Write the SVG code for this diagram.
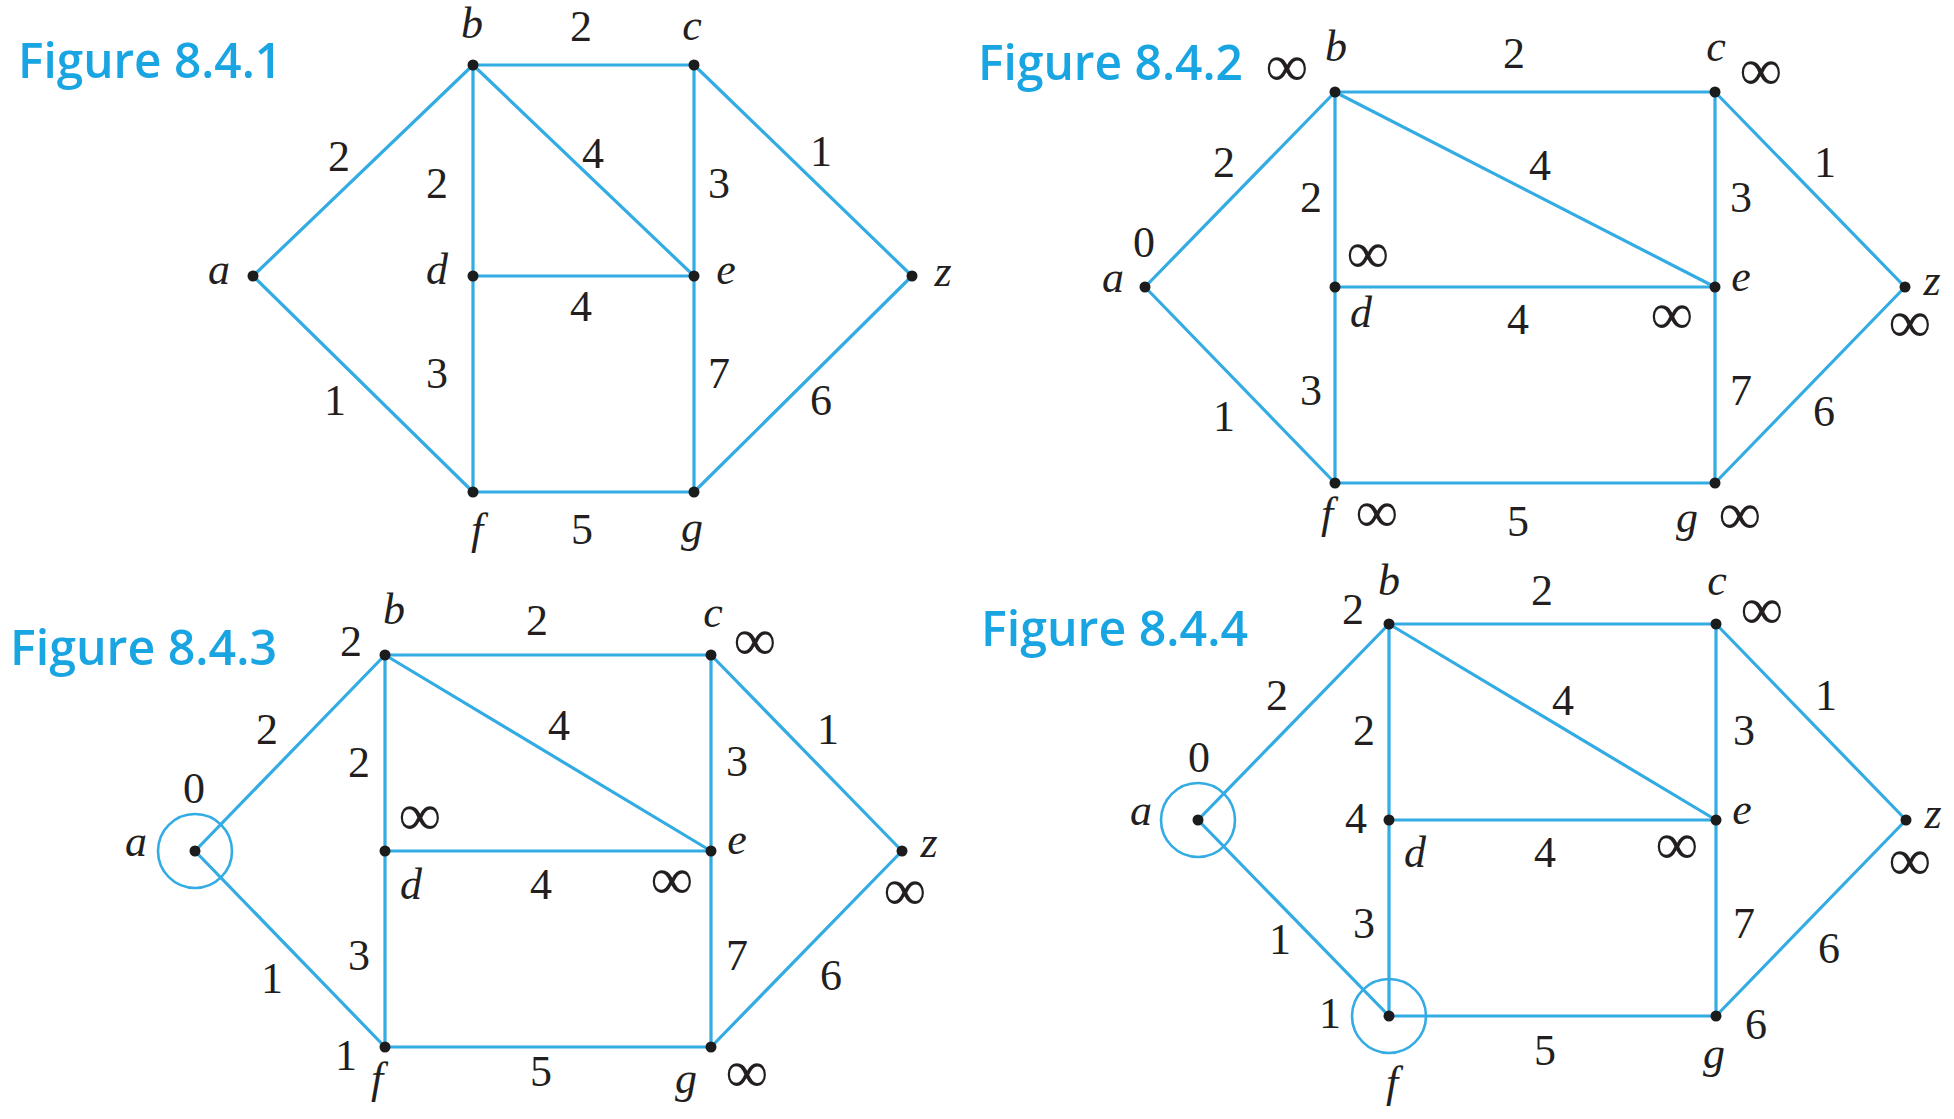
<svg xmlns="http://www.w3.org/2000/svg" width="1954" height="1119" viewBox="0 0 1954 1119">
<style>
.edge{stroke:#33abe3;stroke-width:3.2;fill:none;stroke-linecap:round}
.ring{stroke:#33abe3;stroke-width:2.6;fill:none}
.dot{fill:#1c1c1c}
.t{font-family:'Liberation Serif',serif;font-size:44px;fill:#231f20;text-anchor:middle}
.it{font-style:italic}
.inf{font-size:60px}
.title{font-family:'Open Sans','Noto Sans',sans-serif;font-weight:600;font-size:49px;fill:#19a4e2}
</style>
<rect width="1954" height="1119" fill="#fff"/>

<!-- Figure 8.4.1 -->
<g id="fig1">
<text class="title" x="18" y="78" textLength="264" lengthAdjust="spacingAndGlyphs">Figure 8.4.1</text>
<g id="fig1-edges">
<line class="edge" x1="253" y1="276" x2="473" y2="65"/>
<line class="edge" x1="253" y1="276" x2="473" y2="492"/>
<line class="edge" x1="473" y1="65" x2="694" y2="65"/>
<line class="edge" x1="473" y1="65" x2="473" y2="492"/>
<line class="edge" x1="473" y1="65" x2="694" y2="276"/>
<line class="edge" x1="473" y1="276" x2="694" y2="276"/>
<line class="edge" x1="694" y1="65" x2="694" y2="492"/>
<line class="edge" x1="694" y1="65" x2="912" y2="276"/>
<line class="edge" x1="473" y1="492" x2="694" y2="492"/>
<line class="edge" x1="694" y1="492" x2="912" y2="276"/>
<text class="t" x="339" y="171">2</text>
<text class="t" x="437" y="198">2</text>
<text class="t" x="437" y="388">3</text>
<text class="t" x="335" y="415">1</text>
<text class="t" x="581" y="41">2</text>
<text class="t" x="593" y="168">4</text>
<text class="t" x="719" y="198">3</text>
<text class="t" x="821" y="166">1</text>
<text class="t" x="581" y="321">4</text>
<text class="t" x="719" y="388">7</text>
<text class="t" x="821" y="415">6</text>
<text class="t" x="582" y="544">5</text>
</g>
<g id="fig1-a"><circle class="dot" cx="253" cy="276" r="5.5"/><text class="t it" x="219" y="284">a</text></g>
<g id="fig1-b"><circle class="dot" cx="473" cy="65" r="5.5"/><text class="t it" x="472" y="38">b</text></g>
<g id="fig1-c"><circle class="dot" cx="694" cy="65" r="5.5"/><text class="t it" x="692" y="40">c</text></g>
<g id="fig1-d"><circle class="dot" cx="473" cy="276" r="5.5"/><text class="t it" x="437" y="284">d</text></g>
<g id="fig1-e"><circle class="dot" cx="694" cy="276" r="5.5"/><text class="t it" x="726" y="284">e</text></g>
<g id="fig1-f"><circle class="dot" cx="473" cy="492" r="5.5"/><text class="t it" x="477" y="544">f</text></g>
<g id="fig1-g"><circle class="dot" cx="694" cy="492" r="5.5"/><text class="t it" x="692" y="542">g</text></g>
<g id="fig1-z"><circle class="dot" cx="912" cy="276" r="5.5"/><text class="t it" x="943" y="286">z</text></g>
</g>

<!-- Figure 8.4.2 -->
<g id="fig2">
<text class="title" x="978" y="80" textLength="265" lengthAdjust="spacingAndGlyphs">Figure 8.4.2</text>
<g id="fig2-edges">
<line class="edge" x1="1145" y1="287" x2="1335" y2="92"/>
<line class="edge" x1="1145" y1="287" x2="1335" y2="483"/>
<line class="edge" x1="1335" y1="92" x2="1715" y2="92"/>
<line class="edge" x1="1335" y1="92" x2="1335" y2="483"/>
<line class="edge" x1="1335" y1="92" x2="1715" y2="287"/>
<line class="edge" x1="1335" y1="287" x2="1715" y2="287"/>
<line class="edge" x1="1715" y1="92" x2="1715" y2="483"/>
<line class="edge" x1="1715" y1="92" x2="1905" y2="287"/>
<line class="edge" x1="1335" y1="483" x2="1715" y2="483"/>
<line class="edge" x1="1715" y1="483" x2="1905" y2="287"/>
<text class="t" x="1224" y="177">2</text>
<text class="t" x="1311" y="212">2</text>
<text class="t" x="1311" y="405">3</text>
<text class="t" x="1224" y="431">1</text>
<text class="t" x="1514" y="68">2</text>
<text class="t" x="1540" y="180">4</text>
<text class="t" x="1741" y="212">3</text>
<text class="t" x="1825" y="177">1</text>
<text class="t" x="1518" y="334">4</text>
<text class="t" x="1741" y="405">7</text>
<text class="t" x="1824" y="426">6</text>
<text class="t" x="1518" y="536">5</text>
</g>
<g id="fig2-a"><circle class="dot" cx="1145" cy="287" r="5.5"/><text class="t it" x="1113" y="292">a</text><text class="t" x="1144" y="257">0</text></g>
<g id="fig2-b"><circle class="dot" cx="1335" cy="92" r="5.5"/><text class="t it" x="1336" y="61">b</text><text class="t inf" x="1287" y="86">∞</text></g>
<g id="fig2-c"><circle class="dot" cx="1715" cy="92" r="5.5"/><text class="t it" x="1716" y="61">c</text><text class="t inf" x="1761" y="90">∞</text></g>
<g id="fig2-d"><circle class="dot" cx="1335" cy="287" r="5.5"/><text class="t it" x="1361" y="327">d</text><text class="t inf" x="1368" y="273">∞</text></g>
<g id="fig2-e"><circle class="dot" cx="1715" cy="287" r="5.5"/><text class="t it" x="1741" y="291">e</text><text class="t inf" x="1672" y="334">∞</text></g>
<g id="fig2-f"><circle class="dot" cx="1335" cy="483" r="5.5"/><text class="t it" x="1327" y="528">f</text><text class="t inf" x="1377" y="532">∞</text></g>
<g id="fig2-g"><circle class="dot" cx="1715" cy="483" r="5.5"/><text class="t it" x="1687" y="532">g</text><text class="t inf" x="1740" y="534">∞</text></g>
<g id="fig2-z"><circle class="dot" cx="1905" cy="287" r="5.5"/><text class="t it" x="1932" y="295">z</text><text class="t inf" x="1910" y="342">∞</text></g>
</g>

<!-- Figure 8.4.3 -->
<g id="fig3">
<text class="title" x="10" y="665" textLength="267" lengthAdjust="spacingAndGlyphs">Figure 8.4.3</text>
<g id="fig3-edges">
<line class="edge" x1="195" y1="851" x2="385" y2="655"/>
<line class="edge" x1="195" y1="851" x2="385" y2="1047"/>
<line class="edge" x1="385" y1="655" x2="711" y2="655"/>
<line class="edge" x1="385" y1="655" x2="385" y2="1047"/>
<line class="edge" x1="385" y1="655" x2="711" y2="851"/>
<line class="edge" x1="385" y1="851" x2="711" y2="851"/>
<line class="edge" x1="711" y1="655" x2="711" y2="1047"/>
<line class="edge" x1="711" y1="655" x2="902" y2="851"/>
<line class="edge" x1="385" y1="1047" x2="711" y2="1047"/>
<line class="edge" x1="711" y1="1047" x2="902" y2="851"/>
<text class="t" x="267" y="744">2</text>
<text class="t" x="359" y="777">2</text>
<text class="t" x="359" y="970">3</text>
<text class="t" x="272" y="993">1</text>
<text class="t" x="537" y="635">2</text>
<text class="t" x="559" y="740">4</text>
<text class="t" x="737" y="776">3</text>
<text class="t" x="828" y="744">1</text>
<text class="t" x="541" y="899">4</text>
<text class="t" x="737" y="970">7</text>
<text class="t" x="831" y="990">6</text>
<text class="t" x="541" y="1086">5</text>
</g>
<g id="fig3-a"><circle class="ring" cx="195" cy="851" r="37"/><circle class="dot" cx="195" cy="851" r="5.5"/><text class="t it" x="136" y="856">a</text><text class="t" x="194" y="803">0</text></g>
<g id="fig3-b"><circle class="dot" cx="385" cy="655" r="5.5"/><text class="t it" x="394" y="624">b</text><text class="t" x="351" y="656">2</text></g>
<g id="fig3-c"><circle class="dot" cx="711" cy="655" r="5.5"/><text class="t it" x="713" y="627">c</text><text class="t inf" x="755" y="660">∞</text></g>
<g id="fig3-d"><circle class="dot" cx="385" cy="851" r="5.5"/><text class="t it" x="411" y="899">d</text><text class="t inf" x="420" y="835">∞</text></g>
<g id="fig3-e"><circle class="dot" cx="711" cy="851" r="5.5"/><text class="t it" x="737" y="854">e</text><text class="t inf" x="672" y="899">∞</text></g>
<g id="fig3-f"><circle class="dot" cx="385" cy="1047" r="5.5"/><text class="t it" x="377" y="1093">f</text><text class="t" x="346" y="1070">1</text></g>
<g id="fig3-g"><circle class="dot" cx="711" cy="1047" r="5.5"/><text class="t it" x="686" y="1093">g</text><text class="t inf" x="747" y="1092">∞</text></g>
<g id="fig3-z"><circle class="dot" cx="902" cy="851" r="5.5"/><text class="t it" x="929" y="857">z</text><text class="t inf" x="905" y="910">∞</text></g>
</g>

<!-- Figure 8.4.4 -->
<g id="fig4">
<text class="title" x="981" y="646" textLength="267" lengthAdjust="spacingAndGlyphs">Figure 8.4.4</text>
<g id="fig4-edges">
<line class="edge" x1="1198" y1="820" x2="1389" y2="624"/>
<line class="edge" x1="1198" y1="820" x2="1389" y2="1016"/>
<line class="edge" x1="1389" y1="624" x2="1716" y2="624"/>
<line class="edge" x1="1389" y1="624" x2="1389" y2="1016"/>
<line class="edge" x1="1389" y1="624" x2="1716" y2="820"/>
<line class="edge" x1="1389" y1="820" x2="1716" y2="820"/>
<line class="edge" x1="1716" y1="624" x2="1716" y2="1016"/>
<line class="edge" x1="1716" y1="624" x2="1906" y2="820"/>
<line class="edge" x1="1389" y1="1016" x2="1716" y2="1016"/>
<line class="edge" x1="1716" y1="1016" x2="1906" y2="820"/>
<text class="t" x="1277" y="710">2</text>
<text class="t" x="1364" y="745">2</text>
<text class="t" x="1364" y="938">3</text>
<text class="t" x="1280" y="954">1</text>
<text class="t" x="1542" y="605">2</text>
<text class="t" x="1563" y="715">4</text>
<text class="t" x="1744" y="745">3</text>
<text class="t" x="1826" y="710">1</text>
<text class="t" x="1545" y="867">4</text>
<text class="t" x="1744" y="938">7</text>
<text class="t" x="1829" y="963">6</text>
<text class="t" x="1545" y="1065">5</text>
</g>
<g id="fig4-a"><circle class="ring" cx="1198" cy="820" r="37"/><circle class="dot" cx="1198" cy="820" r="5.5"/><text class="t it" x="1141" y="825">a</text><text class="t" x="1199" y="772">0</text></g>
<g id="fig4-b"><circle class="dot" cx="1389" cy="624" r="5.5"/><text class="t it" x="1389" y="595">b</text><text class="t" x="1353" y="624">2</text></g>
<g id="fig4-c"><circle class="dot" cx="1716" cy="624" r="5.5"/><text class="t it" x="1717" y="595">c</text><text class="t inf" x="1762" y="629">∞</text></g>
<g id="fig4-d"><circle class="dot" cx="1389" cy="820" r="5.5"/><text class="t it" x="1415" y="867">d</text><text class="t" x="1356" y="833">4</text></g>
<g id="fig4-e"><circle class="dot" cx="1716" cy="820" r="5.5"/><text class="t it" x="1742" y="824">e</text><text class="t inf" x="1677" y="864">∞</text></g>
<g id="fig4-f"><circle class="ring" cx="1389" cy="1016" r="37"/><circle class="dot" cx="1389" cy="1016" r="5.5"/><text class="t it" x="1392" y="1097">f</text><text class="t" x="1330" y="1028">1</text></g>
<g id="fig4-g"><circle class="dot" cx="1716" cy="1016" r="5.5"/><text class="t it" x="1714" y="1068">g</text><text class="t" x="1756" y="1039">6</text></g>
<g id="fig4-z"><circle class="dot" cx="1906" cy="820" r="5.5"/><text class="t it" x="1933" y="828">z</text><text class="t inf" x="1910" y="880">∞</text></g>
</g>
</svg>
